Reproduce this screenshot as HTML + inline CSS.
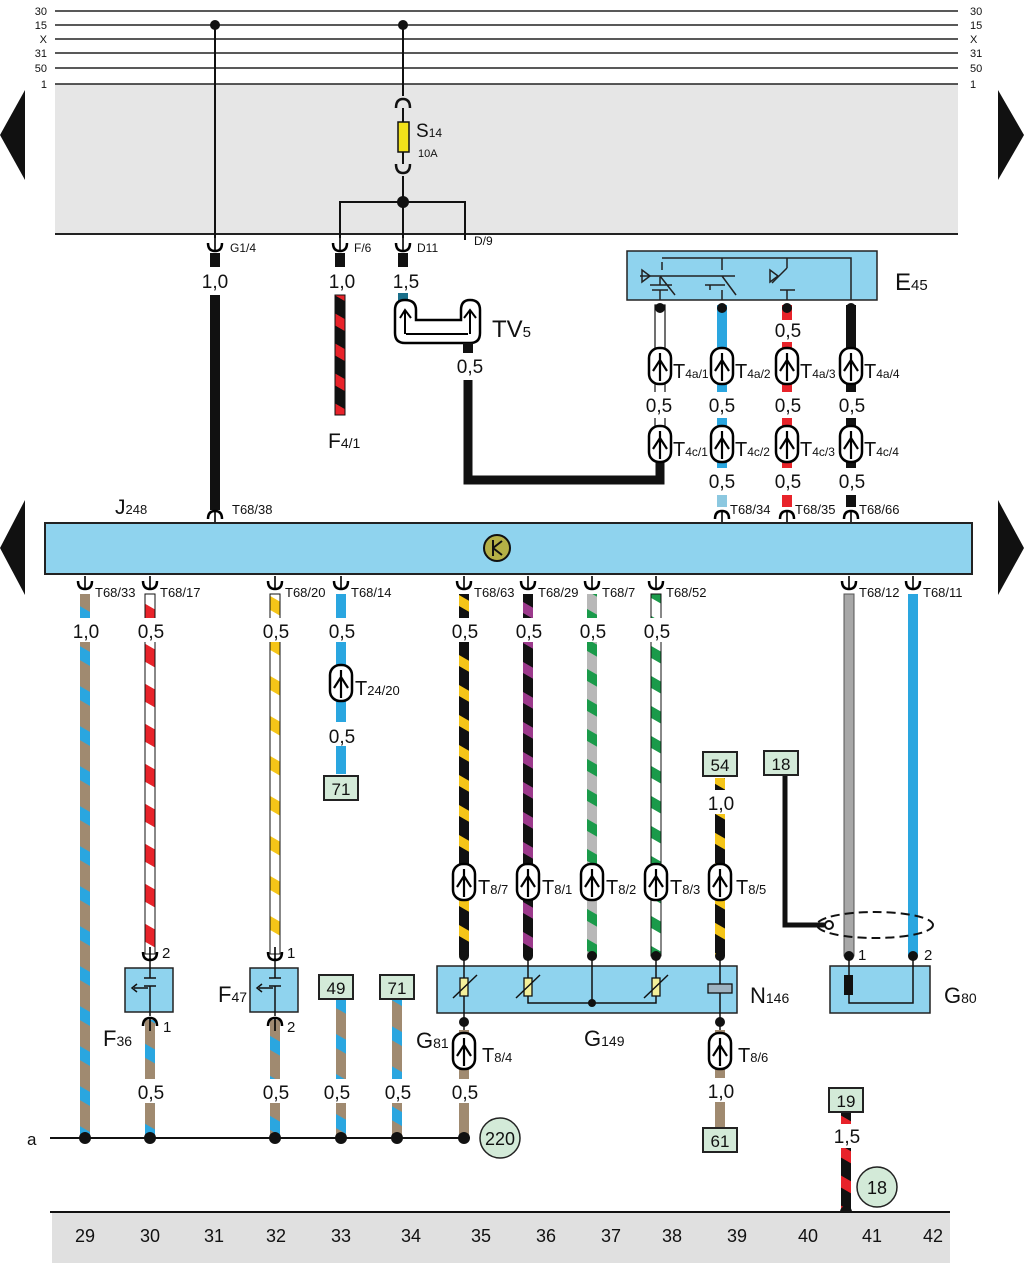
<!DOCTYPE html>
<html><head><meta charset="utf-8"><style>
html,body{margin:0;padding:0;background:#fff}
svg{display:block}
text{font-family:"Liberation Sans Narrow","Liberation Sans",sans-serif;fill:#111}
</style></head><body>
<svg width="1024" height="1263" viewBox="0 0 1024 1263" xmlns="http://www.w3.org/2000/svg">
<defs>
<pattern id="bbl" width="40" height="40" patternUnits="userSpaceOnUse" patternTransform="skewY(30)"><rect width="40" height="40" fill="#a08a70"/><rect y="0" width="40" height="14" fill="#2aa6e0"/></pattern>
<pattern id="rw" width="40" height="40" patternUnits="userSpaceOnUse" patternTransform="skewY(30)"><rect width="40" height="40" fill="#fff"/><rect width="40" height="18" fill="#e8232a"/></pattern>
<pattern id="yw" width="40" height="40" patternUnits="userSpaceOnUse" patternTransform="skewY(30)"><rect width="40" height="40" fill="#fff"/><rect width="40" height="14" fill="#f5c518"/></pattern>
<pattern id="by" width="30" height="30" patternUnits="userSpaceOnUse" patternTransform="skewY(30)"><rect width="30" height="30" fill="#111"/><rect width="30" height="11" fill="#f5c518"/></pattern>
<pattern id="bv" width="30" height="30" patternUnits="userSpaceOnUse" patternTransform="skewY(30)"><rect width="30" height="30" fill="#111"/><rect width="30" height="11" fill="#9c3a8c"/></pattern>
<pattern id="gg" width="30" height="30" patternUnits="userSpaceOnUse" patternTransform="skewY(30)"><rect width="30" height="30" fill="#b8b8b8"/><rect width="30" height="12" fill="#1a9a4a"/></pattern>
<pattern id="wg" width="30" height="30" patternUnits="userSpaceOnUse" patternTransform="skewY(30)"><rect width="30" height="30" fill="#fff"/><rect width="30" height="12" fill="#1a9a4a"/></pattern>
<pattern id="rb" width="30" height="30" patternUnits="userSpaceOnUse" patternTransform="skewY(30)"><rect width="30" height="30" fill="#111"/><rect width="30" height="12" fill="#e8232a"/></pattern>
<g id="tc"><rect x="-11" y="-18" width="22" height="36" rx="10" fill="#fff" stroke="#000" stroke-width="2.5"/><path d="M0,-13 V15 M-7,5 L0,-6 L7,5" fill="none" stroke="#000" stroke-width="2.2"/></g>
<g id="cu"><path d="M-7,-4 Q-7,4 0,4 Q7,4 7,-4" fill="none" stroke="#000" stroke-width="2.5"/><line x1="0" y1="-9" x2="0" y2="4" stroke="#000" stroke-width="1.6"/></g>
<g id="cd"><path d="M-7,4 Q-7,-4 0,-4 Q7,-4 7,4" fill="none" stroke="#000" stroke-width="2.5"/><line x1="0" y1="9" x2="0" y2="-4" stroke="#000" stroke-width="1.6"/></g>
</defs>

<rect x="55" y="84" width="903" height="150" fill="#e6e6e6"/>
<g stroke="#222" stroke-width="1.6">
<line x1="55" y1="11" x2="958" y2="11"/><line x1="55" y1="25" x2="958" y2="25"/><line x1="55" y1="39" x2="958" y2="39"/><line x1="55" y1="53" x2="958" y2="53"/><line x1="55" y1="68" x2="958" y2="68"/><line x1="55" y1="84" x2="958" y2="84"/>
<line x1="55" y1="234" x2="958" y2="234" stroke-width="2"/>
</g>
<g font-size="11" text-anchor="end"><text x="47" y="15">30</text><text x="47" y="29">15</text><text x="47" y="43">X</text><text x="47" y="57">31</text><text x="47" y="72">50</text><text x="47" y="88">1</text></g>
<g font-size="11"><text x="970" y="15">30</text><text x="970" y="29">15</text><text x="970" y="43">X</text><text x="970" y="57">31</text><text x="970" y="72">50</text><text x="970" y="88">1</text></g>
<polygon points="25,90 25,180 0,135" fill="#111"/><polygon points="998,90 998,180 1024,135" fill="#111"/>
<polygon points="25,500 25,595 0,548" fill="#111"/><polygon points="998,500 998,595 1024,548" fill="#111"/>

<g stroke="#111" stroke-width="2" fill="none">
<line x1="215" y1="25" x2="215" y2="238"/>
<line x1="403" y1="25" x2="403" y2="96"/>
<line x1="403" y1="108" x2="403" y2="122"/><line x1="403" y1="152" x2="403" y2="164"/>
<line x1="403" y1="176" x2="403" y2="238"/>
<path d="M340,238 V202 H465 V240"/>
</g>
<circle cx="215" cy="25" r="5" fill="#111"/><circle cx="403" cy="25" r="5" fill="#111"/><circle cx="403" cy="202" r="6" fill="#111"/>
<g fill="none" stroke="#111" stroke-width="2.5"><path d="M396,108 Q396,99 403,99 Q410,99 410,108"/><path d="M396,164 Q396,173 403,173 Q410,173 410,164"/></g>
<rect x="398" y="122" width="11" height="30" fill="#f2e21a" stroke="#111" stroke-width="1.5"/>
<text x="416" y="137" font-size="19">S<tspan font-size="12">14</tspan></text><text x="418" y="157" font-size="11">10A</text>

<use href="#cu" x="215" y="247"/><use href="#cu" x="340" y="247"/><use href="#cu" x="403" y="247"/>
<g font-size="12"><text x="230" y="252">G1/4</text><text x="354" y="252">F/6</text><text x="417" y="252">D11</text><text x="474" y="245">D/9</text></g>
<rect x="210" y="253" width="10" height="14" fill="#111"/><rect x="335" y="253" width="10" height="14" fill="#111"/><rect x="398" y="253" width="10" height="14" fill="#111"/>
<g font-size="19" text-anchor="middle"><text x="215" y="288">1,0</text><text x="342" y="288">1,0</text><text x="406" y="288">1,5</text></g>
<rect x="210" y="295" width="10" height="215" fill="#111"/>
<rect x="335" y="295" width="10" height="120" fill="url(#rb)" stroke="#111" stroke-width="1"/>
<text x="328" y="448" font-size="21">F<tspan font-size="14">4/1</tspan></text>
<!-- TV5 -->
<rect x="398" y="293" width="10" height="8" fill="#1a6f8a"/>
<path d="M405,300 Q395,300 395,310 V333 Q395,343 405,343 H470 Q480,343 480,333 V310 Q480,300 470,300 Q461,300 461,310 V320 H416 V310 Q416,300 405,300 Z" fill="#fff" stroke="#000" stroke-width="2.5"/>
<path d="M406,334 H468" stroke="#000" stroke-width="2"/>
<path d="M400,318 L405,310 L411,318 M464,318 L470,310 L476,318" fill="none" stroke="#000" stroke-width="2"/>
<path d="M405,310 V334 M470,310 V334" stroke="#000" stroke-width="2"/>
<text x="492" y="337" font-size="24">TV<tspan font-size="15">5</tspan></text>
<rect x="463" y="343" width="10" height="10" fill="#111"/>
<text x="470" y="373" font-size="19" text-anchor="middle">0,5</text>
<path d="M468,380 V480 H660 V462" fill="none" stroke="#111" stroke-width="9"/>

<!-- E45 -->
<rect x="627" y="251" width="250" height="49" fill="#8fd3ee" stroke="#222" stroke-width="1.5"/>
<g stroke="#222" stroke-width="1.5" fill="none">
<path d="M660,300 V290 M650,285 H672 M652,290 H668 M660,285 V277 M660,276 L675,295 M640,276 H735 M662,262 L662,270 M662,258 H851 V300 M722,258 V270 M722,276 L736,295 M705,285 H725 M710,290 V285 M722,290 V300 M787,258 V268 M787,268 L772,283 M787,290 V300 M780,290 H795"/>
<polygon points="642,270 642,282 650,276" fill="none"/>
<polygon points="770,270 770,282 778,276" fill="none"/>
</g>
<text x="895" y="290" font-size="24">E<tspan font-size="15">45</tspan></text>
<rect x="655" y="305" width="10" height="140" fill="#fff" stroke="#111" stroke-width="1.2"/>
<rect x="717" y="305" width="10" height="180" fill="#2aa6e0"/>
<rect x="782" y="305" width="10" height="185" fill="#e8232a"/>
<rect x="846" y="305" width="10" height="185" fill="#111"/>
<g fill="#111"><circle cx="660" cy="308" r="5"/><circle cx="722" cy="308" r="5"/><circle cx="787" cy="308" r="5"/><circle cx="851" cy="308" r="5"/></g>
<rect x="775" y="320" width="25" height="22" fill="#fff"/><text x="788" y="337" font-size="19" text-anchor="middle">0,5</text>
<g fill="#fff"><rect x="645" y="392" width="30" height="26"/><rect x="707" y="392" width="30" height="26"/><rect x="772" y="392" width="30" height="26"/><rect x="836" y="392" width="30" height="26"/>
<rect x="707" y="468" width="30" height="24"/><rect x="772" y="468" width="30" height="24"/><rect x="836" y="468" width="30" height="24"/></g>
<g font-size="19" text-anchor="middle"><text x="659" y="412">0,5</text><text x="722" y="412">0,5</text><text x="788" y="412">0,5</text><text x="852" y="412">0,5</text>
<text x="722" y="488">0,5</text><text x="788" y="488">0,5</text><text x="852" y="488">0,5</text></g>
<g><use href="#tc" x="660" y="366"/><use href="#tc" x="722" y="366"/><use href="#tc" x="787" y="366"/><use href="#tc" x="851" y="366"/>
<use href="#tc" x="660" y="444"/><use href="#tc" x="722" y="444"/><use href="#tc" x="787" y="444"/><use href="#tc" x="851" y="444"/></g>
<g font-size="20"><text x="673" y="378">T<tspan font-size="12">4a/1</tspan></text><text x="735" y="378">T<tspan font-size="12">4a/2</tspan></text><text x="800" y="378">T<tspan font-size="12">4a/3</tspan></text><text x="864" y="378">T<tspan font-size="12">4a/4</tspan></text>
<text x="673" y="456">T<tspan font-size="12">4c/1</tspan></text><text x="735" y="456">T<tspan font-size="12">4c/2</tspan></text><text x="800" y="456">T<tspan font-size="12">4c/3</tspan></text><text x="864" y="456">T<tspan font-size="12">4c/4</tspan></text></g>
<rect x="717" y="495" width="10" height="12" fill="#8cc8e0"/><rect x="782" y="495" width="10" height="12" fill="#e8232a"/><rect x="846" y="495" width="10" height="12" fill="#111"/>
<g font-size="13"><text x="730" y="514">T68/34</text><text x="795" y="514">T68/35</text><text x="859" y="514">T68/66</text><text x="232" y="514">T68/38</text></g>
<use href="#cd" x="722" y="515"/><use href="#cd" x="787" y="515"/><use href="#cd" x="851" y="515"/><use href="#cd" x="215" y="515"/>

<!-- J248 -->
<text x="115" y="514" font-size="21">J<tspan font-size="13">248</tspan></text>
<rect x="45" y="523" width="927" height="51" fill="#8fd3ee" stroke="#222" stroke-width="2"/>
<circle cx="497" cy="548" r="13" fill="#b5b046" stroke="#111" stroke-width="2"/>
<path d="M493,540 V556 M493,548 L502,541 M493,548 L502,555" stroke="#111" stroke-width="2" fill="none"/>

<!-- lower wires -->
<rect x="80" y="594" width="10" height="544" fill="url(#bbl)"/>
<rect x="145" y="594" width="10" height="360" fill="url(#rw)" stroke="#111" stroke-width="1"/>
<rect x="270" y="594" width="10" height="360" fill="url(#yw)" stroke="#111" stroke-width="1"/>
<rect x="336" y="594" width="10" height="180" fill="#2aa6e0"/>
<rect x="459" y="594" width="10" height="362" fill="url(#by)"/>
<rect x="523" y="594" width="10" height="362" fill="url(#bv)"/>
<rect x="587" y="594" width="10" height="362" fill="url(#gg)"/>
<rect x="651" y="594" width="10" height="362" fill="url(#wg)" stroke="#111" stroke-width="1"/>
<rect x="844" y="594" width="10" height="362" fill="#a8a8a8" stroke="#555" stroke-width="1"/>
<rect x="908" y="594" width="10" height="362" fill="#2aa6e0"/>
<g><use href="#cu" x="85" y="585"/><use href="#cu" x="150" y="585"/><use href="#cu" x="275" y="585"/><use href="#cu" x="341" y="585"/><use href="#cu" x="464" y="585"/><use href="#cu" x="528" y="585"/><use href="#cu" x="592" y="585"/><use href="#cu" x="656" y="585"/><use href="#cu" x="849" y="585"/><use href="#cu" x="913" y="585"/></g>
<g font-size="13"><text x="95" y="597">T68/33</text><text x="160" y="597">T68/17</text><text x="285" y="597">T68/20</text><text x="351" y="597">T68/14</text><text x="474" y="597">T68/63</text><text x="538" y="597">T68/29</text><text x="602" y="597">T68/7</text><text x="666" y="597">T68/52</text><text x="859" y="597">T68/12</text><text x="923" y="597">T68/11</text></g>
<g fill="#fff"><rect x="70" y="618" width="30" height="24"/><rect x="135" y="618" width="30" height="24"/><rect x="260" y="618" width="30" height="24"/><rect x="326" y="618" width="30" height="24"/><rect x="449" y="618" width="30" height="24"/><rect x="513" y="618" width="30" height="24"/><rect x="577" y="618" width="30" height="24"/><rect x="641" y="618" width="30" height="24"/><rect x="326" y="722" width="30" height="24"/></g>
<g font-size="19" text-anchor="middle"><text x="86" y="638">1,0</text><text x="151" y="638">0,5</text><text x="276" y="638">0,5</text><text x="342" y="638">0,5</text><text x="465" y="638">0,5</text><text x="529" y="638">0,5</text><text x="593" y="638">0,5</text><text x="657" y="638">0,5</text><text x="342" y="743">0,5</text></g>
<use href="#tc" x="341" y="683"/><text x="355" y="695" font-size="20">T<tspan font-size="13">24/20</tspan></text>
<rect x="324" y="776" width="34" height="24" fill="#d3ead8" stroke="#222" stroke-width="2"/><text x="341" y="795" font-size="17" text-anchor="middle">71</text>

<!-- 54 and 18 -->
<rect x="715" y="778" width="10" height="178" fill="url(#by)"/>
<rect x="703" y="752" width="34" height="24" fill="#d3ead8" stroke="#222" stroke-width="2"/><text x="720" y="771" font-size="17" text-anchor="middle">54</text>
<rect x="706" y="790" width="30" height="24" fill="#fff"/><text x="721" y="810" font-size="19" text-anchor="middle">1,0</text>
<rect x="764" y="751" width="34" height="24" fill="#d3ead8" stroke="#222" stroke-width="2"/><text x="781" y="770" font-size="17" text-anchor="middle">18</text>
<path d="M785,776 V925 H830" fill="none" stroke="#111" stroke-width="5"/>
<circle cx="829" cy="925" r="4" fill="#fff" stroke="#111" stroke-width="2"/>
<ellipse cx="875" cy="925" rx="58" ry="13" fill="none" stroke="#111" stroke-width="2" stroke-dasharray="9,5"/>
<g><use href="#tc" x="464" y="882"/><use href="#tc" x="528" y="882"/><use href="#tc" x="592" y="882"/><use href="#tc" x="656" y="882"/><use href="#tc" x="720" y="882"/></g>
<g font-size="20"><text x="478" y="894">T<tspan font-size="13">8/7</tspan></text><text x="542" y="894">T<tspan font-size="13">8/1</tspan></text><text x="606" y="894">T<tspan font-size="13">8/2</tspan></text><text x="670" y="894">T<tspan font-size="13">8/3</tspan></text><text x="736" y="894">T<tspan font-size="13">8/5</tspan></text></g>
<g fill="#111"><circle cx="464" cy="956" r="5"/><circle cx="528" cy="956" r="5"/><circle cx="592" cy="956" r="5"/><circle cx="656" cy="956" r="5"/><circle cx="720" cy="956" r="5"/><circle cx="849" cy="956" r="5"/><circle cx="913" cy="956" r="5"/></g>

<!-- N146 box -->
<rect x="437" y="966" width="300" height="47" fill="#8fd3ee" stroke="#222" stroke-width="1.5"/>
<g stroke="#111" stroke-width="1.5" fill="none">
<path d="M464,956 V1030 M528,956 V1003 H656 V956 M592,956 V1003 M720,956 V1030"/>
</g>
<g fill="#f3ef9a" stroke="#111" stroke-width="1.3"><rect x="460" y="978" width="8" height="18"/><rect x="524" y="978" width="8" height="18"/><rect x="652" y="978" width="8" height="18"/></g>
<rect x="708" y="984" width="24" height="9" fill="#9fb3c0" stroke="#111" stroke-width="1.3"/>
<g stroke="#111" stroke-width="1.5"><line x1="453" y1="998" x2="477" y2="975"/><line x1="516" y1="998" x2="540" y2="975"/><line x1="644" y1="998" x2="668" y2="975"/></g>
<circle cx="592" cy="1003" r="4" fill="#111"/>
<text x="750" y="1003" font-size="22">N<tspan font-size="14">146</tspan></text>
<text x="416" y="1048" font-size="22">G<tspan font-size="14">81</tspan></text>
<text x="584" y="1046" font-size="22">G<tspan font-size="14">149</tspan></text>
<!-- G80 -->
<rect x="830" y="966" width="100" height="47" fill="#8fd3ee" stroke="#222" stroke-width="1.5"/>
<path d="M849,956 V975 M913,956 V1003 H849 V995" fill="none" stroke="#111" stroke-width="1.5"/>
<rect x="844" y="975" width="9" height="20" fill="#111"/>
<text x="858" y="960" font-size="15">1</text><text x="924" y="960" font-size="15">2</text>
<text x="944" y="1003" font-size="22">G<tspan font-size="14">80</tspan></text>

<!-- T8/4 T8/6 -->
<rect x="459" y="1030" width="10" height="108" fill="#a08a70"/>
<rect x="715" y="1030" width="10" height="98" fill="#a08a70"/>
<circle cx="464" cy="1022" r="5" fill="#111"/><circle cx="720" cy="1022" r="5" fill="#111"/>
<use href="#tc" x="464" y="1051"/><use href="#tc" x="720" y="1051"/>
<text x="482" y="1062" font-size="20">T<tspan font-size="13">8/4</tspan></text><text x="738" y="1062" font-size="20">T<tspan font-size="13">8/6</tspan></text>
<rect x="706" y="1078" width="30" height="24" fill="#fff"/><text x="721" y="1098" font-size="19" text-anchor="middle">1,0</text>
<rect x="703" y="1128" width="34" height="24" fill="#d3ead8" stroke="#222" stroke-width="2"/><text x="720" y="1147" font-size="17" text-anchor="middle">61</text>

<!-- F36 F47 -->
<rect x="145" y="1020" width="10" height="118" fill="url(#bbl)"/>
<rect x="270" y="1020" width="10" height="118" fill="url(#bbl)"/>
<rect x="125" y="968" width="48" height="44" fill="#8fd3ee" stroke="#222" stroke-width="1.5"/>
<rect x="250" y="968" width="48" height="44" fill="#8fd3ee" stroke="#222" stroke-width="1.5"/>
<g stroke="#111" stroke-width="1.5" fill="none">
<path d="M150,958 V978 M144,978 H156 M144,986 H156 M150,986 V1016 M134,988 H148 M137,984 L132,988 L137,992"/>
<path d="M275,958 V978 M269,978 H281 M269,986 H281 M275,986 V1016 M259,988 H273 M262,984 L257,988 L262,992"/>
</g>
<use href="#cu" x="150" y="956"/><use href="#cd" x="150" y="1022"/><use href="#cu" x="275" y="956"/><use href="#cd" x="275" y="1022"/>
<g font-size="15"><text x="162" y="958">2</text><text x="163" y="1032">1</text><text x="287" y="958">1</text><text x="287" y="1032">2</text></g>
<text x="103" y="1046" font-size="22">F<tspan font-size="14">36</tspan></text>
<text x="218" y="1002" font-size="22">F<tspan font-size="14">47</tspan></text>
<rect x="336" y="999" width="10" height="139" fill="url(#bbl)"/>
<rect x="392" y="999" width="10" height="139" fill="url(#bbl)"/>
<rect x="319" y="975" width="34" height="24" fill="#d3ead8" stroke="#222" stroke-width="2"/><text x="336" y="994" font-size="17" text-anchor="middle">49</text>
<rect x="380" y="975" width="34" height="24" fill="#d3ead8" stroke="#222" stroke-width="2"/><text x="397" y="994" font-size="17" text-anchor="middle">71</text>
<g fill="#fff"><rect x="135" y="1079" width="30" height="24"/><rect x="260" y="1079" width="30" height="24"/><rect x="322" y="1079" width="30" height="24"/><rect x="383" y="1079" width="30" height="24"/><rect x="449" y="1079" width="30" height="24"/></g>
<g font-size="19" text-anchor="middle"><text x="151" y="1099">0,5</text><text x="276" y="1099">0,5</text><text x="337" y="1099">0,5</text><text x="398" y="1099">0,5</text><text x="465" y="1099">0,5</text></g>

<line x1="50" y1="1138" x2="464" y2="1138" stroke="#111" stroke-width="2"/>
<text x="27" y="1145" font-size="17">a</text>
<g fill="#111"><circle cx="85" cy="1138" r="6"/><circle cx="150" cy="1138" r="6"/><circle cx="275" cy="1138" r="6"/><circle cx="341" cy="1138" r="6"/><circle cx="397" cy="1138" r="6"/><circle cx="464" cy="1138" r="6"/></g>
<circle cx="500" cy="1138" r="20" fill="#d3ead8" stroke="#222" stroke-width="1.5"/><text x="500" y="1145" font-size="18" text-anchor="middle">220</text>

<rect x="841" y="1112" width="10" height="100" fill="url(#rb)"/>
<rect x="829" y="1088" width="34" height="24" fill="#d3ead8" stroke="#222" stroke-width="2"/><text x="846" y="1107" font-size="17" text-anchor="middle">19</text>
<rect x="832" y="1124" width="30" height="24" fill="#fff"/><text x="847" y="1143" font-size="19" text-anchor="middle">1,5</text>
<circle cx="877" cy="1187" r="20" fill="#d3ead8" stroke="#222" stroke-width="1.5"/><text x="877" y="1194" font-size="18" text-anchor="middle">18</text>
<circle cx="846" cy="1212" r="6" fill="#111"/>

<rect x="52" y="1212" width="898" height="51" fill="#e0e0e0"/>
<line x1="50" y1="1212" x2="950" y2="1212" stroke="#111" stroke-width="2"/>
<g font-size="18" text-anchor="middle"><text x="85" y="1242">29</text><text x="150" y="1242">30</text><text x="214" y="1242">31</text><text x="276" y="1242">32</text><text x="341" y="1242">33</text><text x="411" y="1242">34</text><text x="481" y="1242">35</text><text x="546" y="1242">36</text><text x="611" y="1242">37</text><text x="672" y="1242">38</text><text x="737" y="1242">39</text><text x="808" y="1242">40</text><text x="872" y="1242">41</text><text x="933" y="1242">42</text></g>
</svg>
</body></html>
